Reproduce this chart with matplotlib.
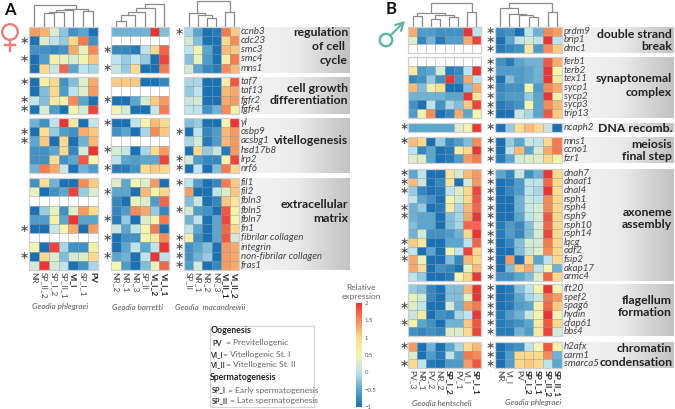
import numpy as np
import matplotlib
matplotlib.use("Agg")
import matplotlib.pyplot as plt
from matplotlib.colors import LinearSegmentedColormap
from matplotlib.patches import Circle, Rectangle

n = np.nan

# Geodia phlegraei, oogenesis
a1_g1 = [[1.4, 1.25, .25, -.25, -.7, -.5, -1],
         [-1, .3, 0, -.2, 1, 1.6, -.7],
         [-.7, -.7, -.8, -.7, 1.3, .4, 1.5],
         [-1, -.6, .6, .4, .2, .5, 1.1],
         [-1, 1, .1, 1.7, -.5, 0, -.1]]
a1_g2 = [[-1, .6, 1, -.7, -.3, .3, 1.3],
         [-1, -.3, 1, -.6, 0, .3, 1.4],
         [0, -.3, .7, .6, 1.5, -.5, -1],
         [-1, .2, -.6, -1, .5, .2, 1.9]]
a1_g3 = [[-.4, -.7, 0, 2, .7, -1, .1],
         [-1, .9, -.2, -.6, -.7, 1.3, 1.1],
         [-.5, 1.1, -1, 1, -1, -.4, 1.2],
         [-.7, -.7, -.5, 1, -.8, .2, 2],
         [-.7, -.7, .9, -.7, -.5, 1.8, .5],
         [-.4, 1.6, 1.3, .1, -1, -.4, -.6]]
a1_g4 = [[-.7, .9, -.4, -1, -1, 1.5, 1.1],
         [.4, -1, -.7, -.5, 1.9, -.2, .3],
         [n, n, n, n, n, n, n],
         [-1, -.2, .4, -.7, .3, 1.4, 1],
         [-.6, -.6, .6, -.5, 2, -.5, -.5],
         [-1, -1, .1, .5, 1.3, -1, 1.4],
         [n, n, n, n, n, n, n],
         [.5, -1, 1.9, -.1, -.7, -.7, .6],
         [-1, 1, .3, -.3, .2, .3, 1],
         [.2, 2, .2, 0, -1, -.7, -.1]]

# Geodia barretti
a2_g1 = [[-.4, -.4, -.4, -.4, 2, -.3],
         [n, n, n, n, n, n],
         [-.8, -.8, -.9, 0, 1, 1.7],
         [0, -.2, 0, -.2, -1, 1.9],
         [.1, -.2, 1, -1, -1, 1.6]]
a2_g2 = [[1.1, 1.1, 1.1, -1, -1, -.8],
         [n, n, n, n, n, n],
         [-1, -1, -.5, .2, 1.1, 1.4],
         [.5, .2, -1, -1, .1, 1.6]]
a2_g3 = [[-1, -1, 0, .5, 1.2, 1],
         [-.7, -.5, -1, -.1, 1.5, 1.1],
         [n, n, n, n, n, n],
         [.2, .1, -1, -.1, 1, 1.4],
         [0, -.5, -.6, -.5, -.5, 1.9],
         [-.9, -.9, -.7, 1, 1.1, 1]]
a2_g4 = [[.3, -.5, .5, .3, 1.4, -1],
         [-.5, -.5, -1, 1.2, .6, 1],
         [-.8, -1, .4, .3, -.6, 1.7],
         [-.8, -.6, 1.5, 1.3, -.2, -.8],
         [-.9, -.2, -1, .3, .5, 1.6],
         [.1, -.5, 0, .5, 1.6, -1],
         [-1, -.7, -.7, .5, .7, 1.5],
         [-1, -.5, 0, -.5, 0, 2],
         [-.5, -.4, -1, 0, 2, 0],
         [.5, -.6, -1, -.3, .4, 1.7]]

# Geodia macandrewii
a3_g1 = [[-.1, -.5, -1, -.9, 1.6, 1.1],
         [.2, -.3, -1, -1, 1, 1.5],
         [0, .5, -.5, -1, 1.2, 1.1],
         [-.3, .4, -.6, -1, .6, 1.6],
         [.2, -.5, -.8, -.9, 1.5, 1.2]]
a3_g2 = [[-.1, -.1, -1, -1, .6, 1.8],
         [-.2, 0, -1, -1, 1.2, 1.3],
         [.1, .2, -1, -1, 1.3, 1.4],
         [0, 0, -.7, -.4, 1.5, .6]]
a3_g3 = [[-.3, -.2, -1, -1, .5, 2],
         [-1, 0, -.8, -.6, 1.2, 1.4],
         [-.1, .2, -.9, -.6, 1.2, 1.4],
         [-1, 1, -.2, .1, -.9, 1.4],
         [.2, -.6, -.8, -.8, .5, 1.9],
         [-1, 0, -1, -.3, 1.6, 1]]
a3_g4 = [[0, -.6, -1, -.8, 1.6, 1.1],
         [1.4, -1, -1, 0, .3, 1.1],
         [-.3, .1, -1, -.8, 1.1, .8],
         [.2, -.6, -.7, -1, 1.8, .6],
         [-.4, 0, -1, -.5, 1.9, .5],
         [0, -.5, -1, -.5, 1.7, 1],
         [.6, -.7, -1, -.5, 1.8, .2],
         [-.7, -.5, -.3, -1, 1.4, 1.3],
         [-.7, -.4, -.2, -1, 1.4, 1.3],
         [-.6, .2, -1, -.8, 1.4, 1.3]]

# Geodia hentscheli
b1_g1 = [[1.3, -.6, -.6, -.7, -.7, -.7, 2, 0],
         [.3, -.8, -.4, -.9, -.6, -.6, 1.3, 1.9],
         [n, n, n, n, n, n, n, n]]
b1_g2 = [[n, n, n, n, n, n, n, n],
         [.7, -.6, -.5, .2, -.9, -.8, 0, 2],
         [-.8, -.7, -.2, -.7, 2, -.7, 1.3, 0],
         [1.2, -.3, .4, .9, -1, -1, -.3, 1.3],
         [-.4, -.4, -.4, -.4, -.5, -.5, 2, .8],
         [-.7, -1, 0, -.7, -.1, -.3, 1.1, 1.9],
         [-.6, .6, 1.5, -1, -.8, 1.3, -.5, .5]]
b1_g3 = [[-.5, -.5, -.5, -.5, -.5, .3, .6, 2]]
b1_g4 = [[1.2, 1, -1, -.2, -.8, -.6, -.3, 1.5],
         [0, -.8, -.5, -1, -.9, .7, 1, 2],
         [.3, .3, -.5, -1, -.9, -.6, 1.4, 1.6]]
b1_g5 = [[-.5, 0, -1, -1, .8, .2, 1.2, 1.4],
         [1.2, .1, -1, -.8, .8, -1, .2, 1.4],
         [-.2, -.8, -1, -.9, 0, .3, 1, 1.9],
         [0, -.5, -.7, -1, .5, .2, 1, 1.8],
         [-.4, -.2, -1, -.9, .7, -.1, 1.2, 1.7],
         [-.4, -.5, -.5, -1, -.3, -.1, 1.3, 2],
         [-.3, -.5, -.5, -1, -.3, -.1, 1.7, 1.7],
         [-.4, .2, -.7, -.7, -.6, -.4, 1, 2],
         [1.1, .7, -1, -1, -.5, -.5, 0, 1.7],
         [0, -1, -.5, -1, .5, 0, 1.9, 1],
         [1.3, .4, -1, -1, -.3, -.8, 1.2, 1],
         [1.3, .9, -1, -.7, -.8, -1, .4, 1.2],
         [0, -.2, -1, -1, -.9, .5, 1, 2]]
b1_g6 = [[-.2, -.3, -.8, -1, -.3, -.3, 1.2, 2],
         [.4, .2, -.8, -1, -.3, -.3, .4, 2],
         [.3, 0, -1, -1, .2, -.4, 1.4, 1.6],
         [.1, .7, -1, -.7, -.8, -.1, 0, 2],
         [.6, -.5, -.7, -1, -.4, -.4, 1.1, 1.8],
         [-.7, -.8, -.7, -.8, .3, .3, 1, 1.9]]
b1_g7 = [[1.4, -1, -.4, -1, -.5, -.1, 1, 1.2],
         [.3, -1, -.6, -.9, 0, -.5, 1.6, 1.5],
         [1, 0, -.9, -1, -.6, -.6, 1.4, 1.8]]

# Geodia phlegraei, spermatogenesis
b2_g1 = [[-.8, -.7, -1, 0, -.4, 1.5, 1.4],
         [-1, -.5, 0, .2, 0, 2, 0],
         [-.9, -.8, -.7, .8, -.6, 1.5, 1.1]]
b2_g2 = [[-.7, -.9, -.5, -.4, -.4, 1.8, 1.3],
         [-.6, -.6, -.6, -.5, -.4, 2, .5],
         [-1, -.3, -.6, -.5, -.4, 2, .7],
         [-.8, -.7, -.7, .5, -.6, 1.5, 1.3],
         [-.7, -.6, -.6, -.2, -.5, 2, .6],
         [-.9, -.8, -.7, .5, -.5, 1.5, 1.2],
         [-1, -1, .1, -.1, -.5, 1.8, 1.1]]
b2_g3 = [[-1, -.2, .9, 1.2, 1, .1, -1]]
b2_g4 = [[-1, -.2, -.5, .1, 0, 1, 1.6],
         [-1, 0, 1.2, -.5, .2, 1.3, 1.6],
         [-.9, -.5, .2, .3, .3, 1, .5]]
b2_g5 = [[-.5, -.8, .1, -.7, -.4, 2, 1],
         [-1, -.9, -.6, 0, 0, 1.7, 1],
         [-1, -.8, -.6, 0, -.1, 2, .9],
         [-1, -1, -.4, .1, 0, 1.5, 1],
         [-1, -1, -.4, .1, .2, 1.5, 1],
         [-1, -1, -.5, 0, .2, 1.8, 1],
         [-.9, -.6, -.8, -.3, .2, 1.7, 1],
         [-.9, -.6, -.8, -.3, .2, 1.9, 1],
         [-1, -.8, -.3, .2, .2, 1.6, 1],
         [-1, -1, -.3, .1, .3, 1.5, 1],
         [-1, 1.4, -1, 1, -.5, 0, 1],
         [-1, -.3, 1.1, 1.3, 0, .5, -.4],
         [-.7, -.7, -.5, -.3, .3, 1.7, 1]]
b2_g6 = [[-1, -.9, -.3, 0, .5, 2, .5],
         [-1, -.9, -.5, -.1, .1, 1.6, 1.4],
         [-1, -.9, -.6, -.5, .6, 1.7, 1.1],
         [-.9, -.6, -.4, .1, .5, 2, .5],
         [-.9, -.8, -.7, -.5, .7, 1.8, 1],
         [-.9, -.9, -.4, -.6, .7, 1.9, .2]]
b2_g7 = [[-1, -.8, -.7, 0, .5, 1.8, .6],
         [-1, -.6, 1, 1, 1, 1.5, -.4],
         [-1, -.6, 1, 1.1, 1, 0, -.5]]

# column labels, second list says which are bold
a1_cols = ["NR", "SP_II_2", "SP_I_2", "SP_II_1", "VI_I", "SP_I_1", "PV"]
a1_bold = ["VI_I", "PV"]
a2_cols = ["NR_2", "NR_1", "NR_3", "SP_II", "VI_I_2", "VI_I_1"]
a2_bold = ["VI_I_2", "VI_I_1"]
a3_cols = ["SP_II", "NR_1", "NR_2", "NR_3", "VI_II_1", "VI_II_2"]
a3_bold = ["VI_II_1", "VI_II_2"]
b1_cols = ["PV_3", "NR_1", "PV_2", "NR_2", "SP_I_2", "PV_1", "VI_I", "SP_I_1"]
b1_bold = ["SP_I_2", "SP_I_1"]
b2_cols = ["NR", "VI_I", "PV", "SP_I_2", "SP_I_1", "SP_II_2", "SP_II_1"]
b2_bold = ["SP_I_2", "SP_I_1", "SP_II_2", "SP_II_1"]

a_genes = [["ccnb3", "cdc23", "smc3", "smc4", "mns1"],
           ["taf7", "taf13", "fgfr2", "fgfr4"],
           ["yl", "osbp9", "acsbg1", "hsd17b8", "lrp2", "nrf6"],
           ["fil1", "fil2", "fbln3", "fbln5", "fbln7", "fn1", "fibrilar collagen",
            "integrin", "non-fibrilar collagen", "fras1"]]
b_genes = [["prdm9", "brip1", "dmc1"],
           ["ferb1", "terb2", "tex11", "sycp1", "sycp2", "sycp3", "trip13"],
           ["ncaph2"],
           ["mns1", "ccno1", "fzr1"],
           ["dnah7", "dnaaf1", "dnal4", "rsph1", "rsph4", "rsph9", "rsph10", "rsph14",
            "lqcg", "odf2", "fsip2", "akap17", "armc4"],
           ["ift20", "spef2", "spag6", "hydin", "cfap61", "bbs4"],
           ["h2afx", "carm1", "smarca5"]]

# asterisks: one list of starred rows for every group
a1_stars = [[1, 3], [0, 2, 3], [1, 2], [5, 8]]
a2_stars = [[2, 4], [2], [0, 3, 5], [1, 4, 6, 8]]
a3_stars = [[0], [], [1, 4, 5], [0, 3, 6, 7, 8, 9]]
b1_stars = [[], [], [0], [0], [0, 1, 2, 4, 5, 8, 9, 10], [2, 4], [0, 2]]
b2_stars = [list(range(len(g))) for g in b_genes]

# dendrograms: (node, node, height); leaves are 0..k-1, new nodes go on from k
a1_tree = [(1, 2, 14.5), (7, 3, 15.5), (8, 4, 17), (5, 6, 16), (9, 10, 18), (0, 11, 22)]
a2_tree = [(0, 1, 6), (6, 2, 12), (7, 3, 15), (8, 4, 19), (9, 5, 23)]
a3_tree = [(2, 3, 9), (1, 6, 12.5), (0, 7, 14), (4, 5, 15), (8, 9, 26)]
b1_tree = [(0, 1, 10.7), (2, 3, 8), (4, 5, 9.7), (9, 10, 12.3), (8, 11, 13.7), (6, 7, 14.7), (12, 13, 23.7)]
b2_tree = [(3, 4, 9.7), (2, 7, 12.3), (1, 8, 13.5), (0, 9, 19), (5, 6, 14.7), (10, 11, 24)]

# colorbar
cbar_ticks = [-1, -.5, 0, .5, 1, 1.5, 2]
cbar_labels = ["\u22121", "\u22120.5", "0", "0.5", "1", "1.5", "2"]

# pixel layout: top and bottom of each group
a_tops = [(27, 72.7), (77, 114), (118, 173), (178, 270)]
b_tops = [(27, 53), (57.3, 117.7), (123, 132), (137, 163), (169, 281), (284, 336), (342, 368)]

blues = LinearSegmentedColormap.from_list("expr", [
    (0, "#1a72b5"), (1 / 6, "#5aa7cf"), (1 / 3, "#bde3ec"), (.5, "#f4f4ae"),
    (2 / 3, "#fed98b"), (5 / 6, "#f98a55"), (1, "#ee3333")])
blues.set_bad("white")
grey_band = LinearSegmentedColormap.from_list("band", ["#f3f3f3", "#ececec", "#c2c2c2"])

fig = plt.figure(figsize=(6.75, 4.09), dpi=100)
ax = fig.add_axes([0, 0, 1, 1])
FONT = "Lato"


def draw_tree(tree, x0, w, k, top):
    # every leaf sits on a column centre at height 0
    nodes = {i: (x0 + (i + .5) * w, 0) for i in range(k)}
    next_id = k
    for a, b, h in tree:
        xa, ha = nodes[a]
        xb, hb = nodes[b]
        ax.plot([xa, xa, xb, xb], [top - ha, top - h, top - h, top - hb],
                color="#8a8a8a", lw=.9, solid_joinstyle="miter")
        nodes[next_id] = ((xa + xb) / 2, h)
        next_id += 1


def draw_heat(groups, tops, x0, w, stars, star_x):
    for g, (y0, y1), st in zip(groups, tops, stars):
        g = np.ma.masked_invalid(np.array(g, dtype=float))
        xs = x0 + np.arange(g.shape[1] + 1) * w
        ys = np.linspace(y0, y1, g.shape[0] + 1)
        mesh = ax.pcolormesh(xs, ys, g, cmap=blues, vmin=-1, vmax=2,
                             edgecolors=(.42, .48, .52, .4), linewidth=.5, antialiased=True)
        ax.add_patch(Rectangle((xs[0], y0), xs[-1] - xs[0], y1 - y0, fill=False,
                               edgecolor="#cfcfcf", lw=.9, zorder=3))
        for r in st:
            ax.text(star_x, (ys[r] + ys[r + 1]) / 2, "\u2217", fontsize=8, color="#444444",
                    ha="center", va="center", family="DejaVu Sans")
    return mesh


def draw_cols(cols, bold, x0, w, y):
    for i, c in enumerate(cols):
        ax.text(x0 + (i + .5) * w, y, c, rotation=-90, ha="center", va="top", fontsize=6,
                color="#222222" if c in bold else "#444444",
                fontweight="bold" if c in bold else "normal", family=FONT)


def draw_band(tops, genes, x0, x1):
    grad = np.linspace(0, 1, 200).reshape(1, -1)
    for (y0, y1), names in zip(tops, genes):
        ax.imshow(grad, cmap=grey_band, extent=[x0, x1, y1, y0], aspect="auto", zorder=0)
        ys = np.linspace(y0, y1, len(names) + 1)
        for i, name in enumerate(names):
            ax.text(x0 + 1.5, (ys[i] + ys[i + 1]) / 2, name, style="italic", fontsize=7,
                    color="#444444", ha="left", va="center", family=FONT)


a_groups = [[a1_g1, a1_g2, a1_g3, a1_g4], [a2_g1, a2_g2, a2_g3, a2_g4], [a3_g1, a3_g2, a3_g3, a3_g4]]
b_groups = [[b1_g1, b1_g2, b1_g3, b1_g4, b1_g5, b1_g6, b1_g7],
            [b2_g1, b2_g2, b2_g3, b2_g4, b2_g5, b2_g6, b2_g7]]

# Panel A
draw_band(a_tops, a_genes, 239.5, 349.5)
mesh = draw_heat(a_groups[0], a_tops, 29, 69 / 7, a1_stars, 24.5)
draw_heat(a_groups[1], a_tops, 111, 58 / 6, a2_stars, 107)
draw_heat(a_groups[2], a_tops, 184, 55 / 6, a3_stars, 179.5)
draw_tree(a1_tree, 29, 69 / 7, 7, 27)
draw_tree(a2_tree, 111, 58 / 6, 6, 27)
draw_tree(a3_tree, 184, 55 / 6, 6, 27)
draw_cols(a1_cols, a1_bold, 29, 69 / 7, 271.5)
draw_cols(a2_cols, a2_bold, 111, 58 / 6, 271.5)
draw_cols(a3_cols, a3_bold, 184, 55 / 6, 271.5)

# Panel B
draw_band(b_tops, b_genes, 562, 673.5)
draw_heat(b_groups[0], b_tops, 408, 73 / 8, b1_stars, 404.5)
draw_heat(b_groups[1], b_tops, 495, 67 / 7, b2_stars, 490)
draw_tree(b1_tree, 408, 73 / 8, 8, 27)
draw_tree(b2_tree, 495, 67 / 7, 7, 27)
draw_cols(b1_cols, b1_bold, 408, 73 / 8, 369.5)
draw_cols(b2_cols, b2_bold, 495, 67 / 7, 369.5)

# group titles
titles = [("regulation", 348, 33), ("of cell ", 348, 46), ("cycle", 348, 60),
          ("cell growth", 348, 88), ("differentiation", 348, 101), ("vitellogenesis", 348.5, 140),
          ("extracellular", 348, 204), ("matrix", 348, 218),
          ("double strand", 672, 34), ("break", 672, 47), ("synaptonemal", 672, 78),
          ("complex", 672, 92), ("DNA recomb.", 673, 128), ("meiosis", 672, 144),
          ("final step", 672, 157), ("axoneme", 672, 212), ("assembly", 672, 225),
          ("flagellum", 672, 300), ("formation", 672, 313), ("chromatin", 672, 348),
          ("condensation", 673, 362)]
for t, x, y in titles:
    ax.text(x, y, t, ha="right", va="center", fontsize=8.8, fontweight="bold",
            color="#222222", family=FONT)

# species names
species = [("Geodia phlegraei", 60, 307), ("Geodia barretti", 137, 307), ("Geodia  macandrewii", 210, 308),
           ("Geodia hentscheli", 442, 403), ("Geodia phlegraei", 533, 403)]
for t, x, y in species:
    ax.text(x, y, t, style="italic", fontsize=5.8, color="#555555", ha="center", va="center", family=FONT)

# panel letters
ax.text(10, 10, "A", fontsize=12, fontweight="bold", ha="center", va="center", color="#111111", family=FONT)
ax.text(391, 9, "B", fontsize=12, fontweight="bold", ha="center", va="center", color="#111111", family=FONT)

# sex symbols
red = "#e5807f"
ax.add_patch(Circle((10, 32), 7.8, fill=False, edgecolor=red, lw=1.7))
ax.plot([10, 10], [40, 50.5], color=red, lw=1.7)
ax.plot([5, 15], [44.5, 44.5], color=red, lw=1.7)
teal = "#5db39e"
ax.add_patch(Circle((386, 40), 6.2, fill=False, edgecolor=teal, lw=1.7))
ax.annotate("", xy=(405, 21), xytext=(390.5, 35.5),
            arrowprops=dict(arrowstyle="->,head_width=.3,head_length=.55", color=teal, lw=1.5, shrinkA=0, shrinkB=0))

# legend box
ax.add_patch(Rectangle((210, 326), 104, 81, fill=False, edgecolor="#d5d5d5", lw=.8))
ax.text(211, 330.5, "Oogenesis", fontsize=6.3, fontweight="bold", va="center", color="#222222", family=FONT)
ax.text(210, 377, "Spermatogenesis", fontsize=6.3, fontweight="bold", va="center", color="#222222", family=FONT)
legend_rows = [("PV", "= Previtellogenic", 212.5, 225.5, 343), ("VI_I", "= Vitellogenic St. I", 210.5, 223, 355),
               ("VI_II", "= Vitellogenic St. II", 210.5, 226, 365),
               ("SP_I", "= Early spermatogenesis", 212, 228, 390), ("SP_II", "= Late spermatogenesis", 212, 230, 401)]
for a, b, xa, xb, y in legend_rows:
    ax.text(xa, y, a, fontsize=5.2, fontweight="bold", va="center", color="#333333", family=FONT)
    ax.text(xb, y, b, fontsize=6.1, va="center", color="#666666", family=FONT)

ax.text(361, 292, "Relative\nexpression", fontsize=6, ha="center", va="center", color="#666666", family=FONT,
        linespacing=1.35)

ax.set_xlim(0, 675)
ax.set_ylim(409, 0)
ax.axis("off")

# colorbar on its own axes
cax = fig.add_axes([356 / 675, 1 - 407 / 409, 6 / 675, 104 / 409])
cb = fig.colorbar(mesh, cax=cax, ticks=cbar_ticks)
cb.ax.set_yticklabels(cbar_labels, fontsize=4.3, color="#555555", family=FONT)
cb.ax.tick_params(length=0, pad=2)
cb.outline.set_visible(False)

fig.savefig("out.png", dpi=100)
